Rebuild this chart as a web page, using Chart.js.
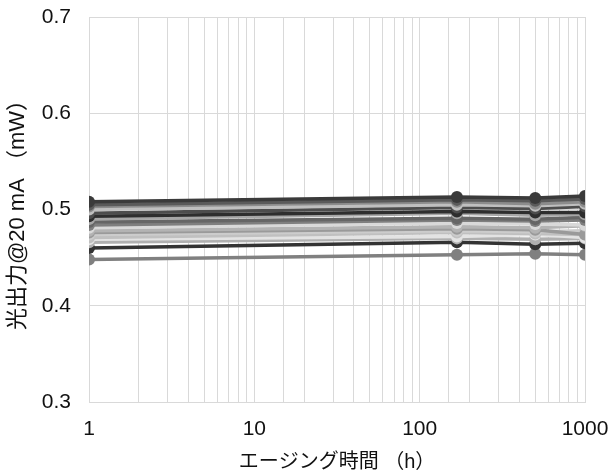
<!DOCTYPE html>
<html>
<head>
<meta charset="utf-8">
<script src="https://cdn.jsdelivr.net/npm/chart.js@4/dist/chart.umd.min.js"></script>
<style>
  html, body { margin: 0; padding: 0; background: #fff; }
  #wrap { width: 614px; height: 474px; }
</style>
</head>
<body>
<div id="wrap"><canvas id="c" width="614" height="474"></canvas></div>
<script>
// Aging time points (h)
const hours = [1, 168, 500, 1000];

// Optical output at 20 mA (mW) for each device
const dev01 = [0.508, 0.513, 0.512, 0.514];
const dev02 = [0.505, 0.510, 0.509, 0.511];
const dev03 = [0.503, 0.508, 0.506, 0.508];
const dev04 = [0.500, 0.505, 0.504, 0.506];
const dev05 = [0.496, 0.502, 0.501, 0.503];
const dev06 = [0.493, 0.498, 0.497, 0.497];
const dev07 = [0.490, 0.496, 0.494, 0.495];
const dev08 = [0.487, 0.491, 0.490, 0.492];
const dev09 = [0.484, 0.489, 0.488, 0.489];
const dev10 = [0.481, 0.486, 0.485, 0.484];
const dev11 = [0.478, 0.482, 0.481, 0.483];
const dev12 = [0.476, 0.480, 0.479, 0.474];
const dev13 = [0.474, 0.478, 0.477, 0.478];
const dev14 = [0.471, 0.476, 0.475, 0.474];
const dev15 = [0.469, 0.472, 0.474, 0.471];
const dev16 = [0.466, 0.470, 0.469, 0.470];
const dev17 = [0.460, 0.466, 0.464, 0.465];
const dev18 = [0.448, 0.453, 0.454, 0.453];

const devices = [dev01, dev02, dev03, dev04, dev05, dev06, dev07, dev08, dev09,
                 dev10, dev11, dev12, dev13, dev14, dev15, dev16, dev17, dev18];
const shades = ['#3a3a3a', '#5a5a5a', '#8c8c8c', '#bfbfbf', '#4d4d4d', '#2e2e2e',
                '#a6a6a6', '#666666', '#7f7f7f', '#d9d9d9', '#b3b3b3', '#9a9a9a',
                '#cccccc', '#c0c0c0', '#e3e3e3', '#b0b0b0', '#333333', '#808080'];

// axis tick marks
const yTicks = [0.3, 0.4, 0.5, 0.6, 0.7];
const xLabels = [1, 10, 100, 1000];

const FONT = "'Liberation Sans', Arial, 'Noto Sans CJK JP', sans-serif";
const GRID = '#d9d9d9';
const INK = '#111111';

const datasets = devices.map((vals, i) => ({
  data: hours.map((h, k) => ({ x: h, y: vals[k] })),
  borderColor: shades[i],
  backgroundColor: shades[i],
  borderWidth: 3.5,
  pointRadius: 6,
  pointHoverRadius: 6,
  pointBorderWidth: 0,
  tension: 0
}));

new Chart(document.getElementById('c'), {
  type: 'line',
  data: { datasets },
  options: {
    responsive: false,
    animation: false,
    layout: { padding: { top: 17, right: 29, left: 0, bottom: 0 } },
    plugins: { legend: { display: false }, tooltip: { enabled: false } },
    scales: {
      x: {
        type: 'logarithmic',
        min: 1, max: 1000,
        grid: { color: GRID, lineWidth: 1, drawTicks: false },
        border: { color: GRID },
        ticks: {
          autoSkip: false, maxRotation: 0, padding: 15,
          color: INK, font: { family: FONT, size: 21 },
          callback: v => xLabels.includes(v) ? String(v) : ''
        },
        title: {
          display: true, text: 'エージング時間 （h）', color: INK,
          font: { family: FONT, size: 20 }, padding: { top: 4, bottom: 0 }
        },
        afterFit: s => { s.height = 72; s.paddingLeft = 0; s.paddingRight = 0; }
      },
      y: {
        min: 0.3, max: 0.7,
        afterBuildTicks: s => { s.ticks = yTicks.map(v => ({ value: v })); },
        grid: { color: GRID, lineWidth: 1, drawTicks: false },
        border: { color: GRID },
        ticks: {
          padding: 18, color: INK, font: { family: FONT, size: 21 },
          callback: v => v.toFixed(1)
        },
        title: {
          display: true, text: '光出力@20 mA （mW）', color: INK,
          font: { family: FONT, size: 22 }, padding: { top: 5, bottom: 0 }
        },
        afterFit: s => { s.width = 89; s.paddingTop = 0; s.paddingBottom = 0; }
      }
    }
  }
});
</script>
</body>
</html>
